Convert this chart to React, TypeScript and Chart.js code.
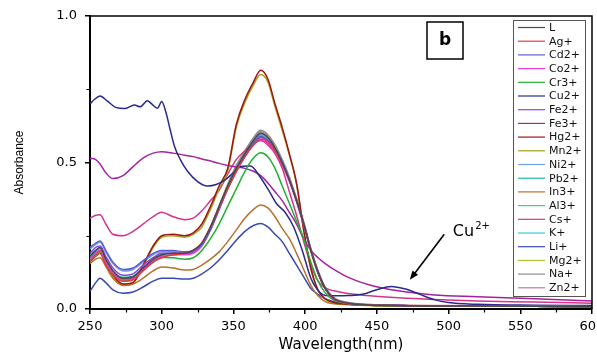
import React, { useEffect, useRef } from "react";
import { Chart, registerables } from "chart.js";

Chart.register(...registerables);

// Shared wavelength grid (nm)
const W = [250, 254, 257, 261, 266, 273, 280, 287, 294, 300, 308, 316, 322, 328, 334, 340, 346, 352, 358, 364, 369, 374, 379, 384, 389, 394, 399, 404, 409, 414, 420, 430, 445, 465, 490, 520, 560, 600];

const L = [0.18,0.20,0.21,0.17,0.13, 0.105,0.11,0.14,0.17,0.185, 0.19,0.19,0.20,0.225,0.28, 0.35,0.42,0.48,0.53,0.575, 0.60,0.585,0.55,0.50,0.44, 0.37,0.29,0.20,0.125,0.07, 0.035,0.02,0.014,0.012,0.01, 0.01,0.009,0.008];
const AG = [0.16,0.18,0.19,0.15,0.115, 0.095,0.10,0.13,0.16,0.175, 0.185,0.19,0.20,0.225,0.28, 0.345,0.41,0.47,0.52,0.56, 0.58,0.57,0.54,0.495,0.44, 0.37,0.29,0.20,0.125,0.07, 0.035,0.02,0.014,0.012,0.01, 0.01,0.009,0.008];
const CD = [0.21,0.225,0.232,0.20,0.16, 0.135,0.14,0.165,0.19,0.20, 0.20,0.195,0.20,0.22,0.27, 0.34,0.41,0.47,0.52,0.565, 0.59,0.575,0.545,0.50,0.44, 0.37,0.29,0.20,0.125,0.07, 0.035,0.02,0.014,0.012,0.01, 0.01,0.009,0.008];
const CO = [0.17,0.19,0.20,0.16,0.12, 0.10,0.105,0.135,0.165,0.18, 0.185,0.185,0.19,0.215,0.27, 0.34,0.41,0.47,0.52,0.56, 0.575,0.565,0.535,0.49,0.435, 0.365,0.285,0.195,0.12,0.068, 0.034,0.02,0.014,0.012,0.01, 0.01,0.009,0.008];
const CR = [0.165,0.18,0.19,0.155,0.12, 0.105,0.11,0.135,0.16,0.176, 0.175,0.17,0.175,0.2,0.24, 0.29,0.35,0.41,0.47,0.515, 0.533,0.52,0.48,0.42,0.36, 0.30,0.24,0.16,0.095,0.055, 0.03,0.018,0.013,0.011,0.01, 0.01,0.009,0.008];
const FE2 = [0.19,0.21,0.215,0.18,0.14, 0.115,0.12,0.15,0.175,0.19, 0.19,0.19,0.195,0.22,0.275, 0.345,0.415,0.475,0.525,0.565, 0.585,0.575,0.545,0.50,0.44, 0.37,0.29,0.20,0.125,0.07, 0.035,0.02,0.014,0.012,0.01, 0.01,0.009,0.008];
const FE3 = [0.514,0.51,0.495,0.465,0.445, 0.455,0.486,0.515,0.532,0.537, 0.532,0.525,0.52,0.512,0.505, 0.497,0.49,0.485,0.48,0.47, 0.455,0.43,0.40,0.37,0.33, 0.29,0.24,0.20,0.175,0.155, 0.135,0.108,0.082,0.062,0.048, 0.042,0.035,0.027];
const HG = [0.17,0.19,0.20,0.155,0.115, 0.085,0.09,0.15,0.215,0.25, 0.255,0.25,0.26,0.29,0.35, 0.42,0.48,0.63,0.715,0.775, 0.815,0.785,0.70,0.62,0.53, 0.43,0.27,0.14,0.065,0.035, 0.022,0.016,0.013,0.011,0.01, 0.01,0.009,0.008];
const MN = [0.165,0.185,0.195,0.15,0.11, 0.085,0.09,0.145,0.21,0.245, 0.25,0.245,0.255,0.28,0.34, 0.41,0.47,0.62,0.705,0.765, 0.80,0.775,0.69,0.61,0.525, 0.425,0.265,0.135,0.062,0.033, 0.021,0.015,0.012,0.011,0.01, 0.01,0.009,0.008];
const NI = [0.205,0.22,0.228,0.195,0.155, 0.13,0.135,0.16,0.185,0.195, 0.195,0.19,0.195,0.22,0.275, 0.345,0.415,0.48,0.53,0.57, 0.595,0.58,0.55,0.505,0.445, 0.375,0.295,0.205,0.13,0.072, 0.036,0.02,0.014,0.012,0.01, 0.01,0.009,0.008];
const PB = [0.185,0.20,0.21,0.17,0.13, 0.108,0.112,0.14,0.17,0.185, 0.19,0.19,0.195,0.22,0.275, 0.345,0.42,0.48,0.53,0.575, 0.60,0.585,0.55,0.505,0.445, 0.372,0.292,0.20,0.126,0.07, 0.035,0.02,0.014,0.012,0.01, 0.01,0.009,0.008];
const IN = [0.155,0.17,0.175,0.145,0.105, 0.08,0.085,0.105,0.13,0.143, 0.14,0.133,0.135,0.15,0.17, 0.195,0.23,0.27,0.31,0.34, 0.355,0.345,0.315,0.275,0.24, 0.19,0.135,0.08,0.045,0.025, 0.018,0.015,0.013,0.012,0.011, 0.01,0.01,0.009];
const AL = [0.175,0.19,0.20,0.165,0.125, 0.10,0.106,0.136,0.166,0.18, 0.186,0.188,0.195,0.22,0.272, 0.342,0.412,0.472,0.522,0.565, 0.59,0.578,0.546,0.50,0.442, 0.37,0.29,0.20,0.125,0.07, 0.035,0.02,0.014,0.012,0.01, 0.01,0.009,0.008];
const CS = [0.31,0.32,0.322,0.29,0.255, 0.25,0.265,0.29,0.315,0.33, 0.315,0.305,0.31,0.335,0.37, 0.405,0.46,0.51,0.54,0.565, 0.575,0.56,0.53,0.48,0.40, 0.32,0.23,0.15,0.095,0.072, 0.062,0.053,0.045,0.038,0.032, 0.027,0.024,0.02];
const K = [0.18,0.195,0.205,0.168,0.128, 0.104,0.11,0.14,0.168,0.183, 0.188,0.19,0.197,0.222,0.276, 0.346,0.418,0.478,0.528,0.57, 0.595,0.582,0.55,0.503,0.444, 0.372,0.292,0.20,0.126,0.07, 0.035,0.02,0.014,0.012,0.01, 0.01,0.009,0.008];
const LI = [0.06,0.09,0.105,0.09,0.065, 0.054,0.058,0.075,0.095,0.105, 0.105,0.102,0.105,0.12,0.14, 0.167,0.20,0.235,0.265,0.285, 0.292,0.28,0.255,0.23,0.19, 0.15,0.11,0.07,0.05,0.035, 0.025,0.017,0.013,0.011,0.01, 0.01,0.009,0.008];
const MG = [0.17,0.185,0.195,0.16,0.12, 0.098,0.104,0.134,0.164,0.18, 0.186,0.188,0.195,0.222,0.278, 0.35,0.422,0.482,0.532,0.575, 0.60,0.587,0.554,0.506,0.446, 0.374,0.294,0.202,0.128,0.071, 0.036,0.02,0.014,0.012,0.01, 0.01,0.009,0.008];
const NA = [0.17,0.19,0.20,0.165,0.125, 0.10,0.105,0.135,0.165,0.18, 0.185,0.19,0.20,0.225,0.28, 0.35,0.425,0.49,0.54,0.585, 0.61,0.595,0.56,0.51,0.45, 0.375,0.295,0.205,0.13,0.075, 0.04,0.022,0.015,0.012,0.011, 0.01,0.01,0.009];
const ZN = [0.175,0.19,0.20,0.165,0.125, 0.10,0.106,0.136,0.166,0.182, 0.188,0.19,0.197,0.224,0.28, 0.352,0.424,0.485,0.535,0.58, 0.605,0.59,0.557,0.508,0.448, 0.376,0.296,0.204,0.13,0.072, 0.036,0.021,0.015,0.013,0.012, 0.011,0.01,0.009];

// Cu2+ has its own, finer wavelength grid
const CU_W = [250,253,257,262,268,274,281,285,290,293,297,300,303,306,309,313,318,325,332,338,344,350,356,362,368,374,380,386,392,398,404,410,416,422,430,440,450,460,470,480,490,500,520,560,600];
const CU = [0.70,0.715,0.727,0.71,0.688, 0.684,0.696,0.69,0.711,0.70, 0.685,0.708,0.67,0.61,0.554, 0.51,0.47,0.435,0.42,0.425, 0.44,0.465,0.487,0.488,0.455, 0.41,0.36,0.33,0.28,0.20, 0.105,0.058,0.045,0.045,0.046, 0.05,0.066,0.077,0.068,0.05, 0.032,0.022,0.016,0.013,0.012];

const LABELS = ["L","Ag+","Cd2+","Co2+","Cr3+","Cu2+","Fe2+","Fe3+","Hg2+","Mn2+","Ni2+","Pb2+","In3+","Al3+","Cs+","K+","Li+","Mg2+","Na+","Zn2+"];
const SERIES = [L, AG, CD, CO, CR, CU, FE2, FE3, HG, MN, NI, PB, IN, AL, CS, K, LI, MG, NA, ZN];
const COLORS = ["#4a4a4a","#e23b3b","#5c5cd6","#e23ce2","#22b033","#2a2a8c","#8e44e0","#a3239f","#9c1616","#a8a21c","#6f9fdc","#22b5ad","#b8712a","#3fcf85","#d5338c","#3fcad8","#3a4aae","#aec52e","#8c8c8c","#c27a9a"];

const X_MINOR = [275, 325, 375, 425, 475, 525, 575];
const Y_MINOR = [0.25, 0.75];

const decorPlugin = {
  id: "decor",
  afterDraw(chart: any) {
    const { ctx, chartArea: a, scales } = chart;
    const x = scales.x, y = scales.y;
    ctx.save();
    // top & right frame
    ctx.strokeStyle = "#000";
    ctx.lineWidth = 1.5;
    ctx.beginPath();
    ctx.moveTo(a.left, a.top);
    ctx.lineTo(a.right, a.top);
    ctx.lineTo(a.right, a.bottom);
    ctx.stroke();
    // minor ticks
    ctx.lineWidth = 1.2;
    ctx.beginPath();
    for (const v of X_MINOR) {
      const px = Math.round(x.getPixelForValue(v)) + 0.5;
      ctx.moveTo(px, a.bottom);
      ctx.lineTo(px, a.bottom + 3.5);
    }
    for (const v of Y_MINOR) {
      const py = Math.round(y.getPixelForValue(v)) + 0.5;
      ctx.moveTo(a.left, py);
      ctx.lineTo(a.left - 3.5, py);
    }
    ctx.stroke();

    // "b" panel box
    const bx = a.left + 337, by = a.top + 6;
    ctx.fillStyle = "#fff";
    ctx.fillRect(bx, by, 36, 37);
    ctx.lineWidth = 1.5;
    ctx.strokeStyle = "#000";
    ctx.strokeRect(bx, by, 36, 37);
    ctx.fillStyle = "#000";
    ctx.font = "bold 17px 'DejaVu Sans'";
    ctx.textAlign = "center";
    ctx.textBaseline = "middle";
    ctx.fillText("b", bx + 18, by + 19);

    // legend
    const lx = a.right - 79, ly = a.top + 4, lw = 72, lh = 276;
    ctx.fillStyle = "#fff";
    ctx.fillRect(lx, ly, lw, lh);
    ctx.strokeStyle = "#555";
    ctx.lineWidth = 1;
    ctx.strokeRect(lx + 0.5, ly + 0.5, lw, lh);
    ctx.font = "11px 'DejaVu Sans'";
    ctx.textAlign = "left";
    ctx.textBaseline = "middle";
    chart.data.datasets.forEach((ds: any, i: number) => {
      const cy = ly + 7.5 + i * 13.7;
      ctx.strokeStyle = ds.borderColor;
      ctx.lineWidth = 1.2;
      ctx.beginPath();
      ctx.moveTo(lx + 5, cy);
      ctx.lineTo(lx + 32, cy);
      ctx.stroke();
      ctx.fillStyle = "#111";
      ctx.fillText(ds.label, lx + 36, cy + 0.5);
    });

    // Cu2+ annotation with arrow
    const tx = x.getPixelForValue(503), ty = y.getPixelForValue(0.25);
    ctx.fillStyle = "#000";
    ctx.textAlign = "left";
    ctx.textBaseline = "alphabetic";
    ctx.font = "16px 'DejaVu Sans'";
    ctx.fillText("Cu", tx, ty);
    const cw = ctx.measureText("Cu").width;
    ctx.font = "10px 'DejaVu Sans'";
    ctx.fillText("2+", tx + cw + 1, ty - 7);

    const x0 = x.getPixelForValue(497), y0 = y.getPixelForValue(0.255);
    const x1 = x.getPixelForValue(473), y1 = y.getPixelForValue(0.1);
    const ang = Math.atan2(y1 - y0, x1 - x0);
    ctx.strokeStyle = "#000";
    ctx.lineWidth = 1.6;
    ctx.beginPath();
    ctx.moveTo(x0, y0);
    ctx.lineTo(x1 - 6 * Math.cos(ang), y1 - 6 * Math.sin(ang));
    ctx.stroke();
    ctx.beginPath();
    ctx.moveTo(x1, y1);
    ctx.lineTo(x1 - 9 * Math.cos(ang) + 3.5 * Math.sin(ang), y1 - 9 * Math.sin(ang) - 3.5 * Math.cos(ang));
    ctx.lineTo(x1 - 9 * Math.cos(ang) - 3.5 * Math.sin(ang), y1 - 9 * Math.sin(ang) + 3.5 * Math.cos(ang));
    ctx.closePath();
    ctx.fill();
    ctx.restore();
  },
};

export default function App() {
  const ref = useRef<HTMLCanvasElement>(null);
  useEffect(() => {
    if (!ref.current) return;
    const datasets = LABELS.map((label, i) => {
      const xs = label === "Cu2+" ? CU_W : W;
      const ys = SERIES[i];
      return {
        label,
        data: xs.map((wl, j) => ({ x: wl, y: ys[j] })),
        borderColor: COLORS[i],
        backgroundColor: COLORS[i],
        borderWidth: 1.5,
        pointRadius: 0,
        fill: false,
        cubicInterpolationMode: "monotone" as const,
      };
    });
    const tickFont = { family: "'DejaVu Sans'", size: 13 };
    const chart = new Chart(ref.current, {
      type: "line",
      data: { datasets },
      options: {
        responsive: false,
        animation: false,
        devicePixelRatio: 1,
        layout: { padding: { top: 16, right: 5, left: 0, bottom: 0 } },
        plugins: { legend: { display: false }, tooltip: { enabled: false } },
        scales: {
          x: {
            type: "linear",
            min: 250,
            max: 600,
            ticks: { stepSize: 50, font: tickFont, color: "#000", padding: 5, maxRotation: 0, autoSkip: false },
            grid: { display: true, drawOnChartArea: false, drawTicks: true, tickLength: 5, color: "#000", lineWidth: 1.5 },
            border: { display: true, color: "#000", width: 2 },
            title: { display: true, text: "Wavelength(nm)", color: "#000", font: { family: "'DejaVu Sans'", size: 15 }, padding: { top: 0, bottom: 0 } },
            afterFit(s: any) { s.height = 45; s.paddingLeft = 0; s.paddingRight = 0; },
          },
          y: {
            type: "linear",
            min: 0,
            max: 1,
            ticks: { stepSize: 0.5, font: tickFont, color: "#000", padding: 8, callback: (v: any) => Number(v).toFixed(1) },
            grid: { display: true, drawOnChartArea: false, drawTicks: true, tickLength: 5, color: "#000", lineWidth: 1.5 },
            border: { display: true, color: "#000", width: 2 },
            title: { display: true, text: "Absorbance", color: "#000", font: { family: "'Liberation Sans'", size: 12 }, padding: { top: 12, bottom: 0 } },
            afterFit(s: any) { s.width = 90; s.paddingTop = 0; s.paddingBottom = 0; },
          },
        },
      },
      plugins: [decorPlugin],
    });
    return () => chart.destroy();
  }, []);
  return (
    <div style={{ position: "fixed", left: 0, top: 0, width: 597, height: 354, background: "#fff" }}>
      <canvas ref={ref} width={597} height={354} style={{ display: "block" }} />
    </div>
  );
}
